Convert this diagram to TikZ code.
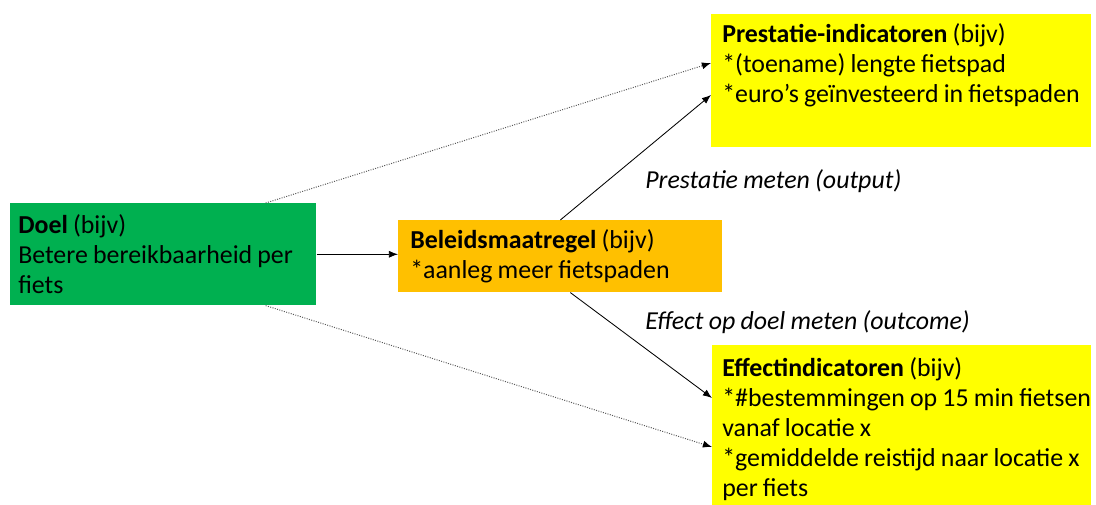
\documentclass[tikz,border=0pt]{standalone}
\usepackage{fontspec}
\setmainfont{Carlito}
\usetikzlibrary{calc,arrows.meta}
\definecolor{doelgroen}{HTML}{00B050}
\definecolor{maatoranje}{HTML}{FFC000}
\definecolor{indgeel}{HTML}{FFFF00}
\hyphenpenalty=10000
\newcommand\smalspatie{\spaceskip=0.2em plus 0.05em\relax}
\begin{document}
\begin{tikzpicture}[x=0.025cm,y=-0.025cm,
  >={Latex[length=6.5pt,width=5pt]},
  vak/.style={anchor=north west, align=flush left, font=\fontsize{18.4}{21.4}\selectfont, execute at begin node=\smalspatie},
  pijl/.style={->, line width=0.6pt},
  stippel/.style={-{Latex[black,length=6.5pt,width=5pt]}, gray!70!black, densely dotted, line width=0.7pt},
  uitleg/.style={anchor=base west, inner sep=0pt, font=\fontsize{18.4}{21.4}\selectfont\itshape, execute at begin node=\smalspatie}]
  \useasboundingbox (0,0) rectangle (1096,505);
  \node[vak, fill=doelgroen, text width=7.25cm, inner xsep=0.2cm, minimum height=2.55cm] (doel) at (10,203)
    {\textbf{Doel} (bijv)\\Betere bereikbaarheid per\\fiets};
  \node[vak, fill=maatoranje, text width=7.5cm, inner xsep=0.3cm, minimum height=1.8cm] (beleid) at (398,220)
    {\textbf{Beleidsmaatregel} (bijv)\\{}*aanleg meer fietspaden};
  \node[vak, fill=indgeel, text width=8.95cm, inner xsep=0.275cm, inner ysep=0.225cm, text depth=2.4cm] (prest) at (711,14)
    {\textbf{Prestatie-indicatoren} (bijv)\\\mbox{*(toename) lengte fietspad}\\\mbox{*euro's geïnvesteerd in fietspaden}};
  \node[vak, fill=indgeel, text width=8.975cm, inner xsep=0.25cm, inner ysep=0.3cm] (effect) at (712,345)
    {\textbf{Effectindicatoren} (bijv)\\\mbox{*\#bestemmingen op 15 min fietsen}\\vanaf locatie x\\\mbox{*gemiddelde reistijd naar locatie x}\\per fiets};
  \draw[pijl] (doel.east) -- (beleid.west |- doel.east);
  \draw[stippel] ($(doel.north east)+(-51,0)$) -- ($(prest.north west)+(0,49)$);
  \draw[pijl] (beleid.north) -- ($(prest.north west)+(0,81)$);
  \draw[pijl] ($(beleid.south)+(10,0)$) -- ($(effect.north west)+(0,53)$);
  \draw[stippel] ($(doel.south east)+(-51,0)$) -- ($(effect.north west)+(0,102)$);
  \node[uitleg] (prestlabel) at (645,188) {Prestatie meten (output)};
  \node[uitleg] (effectlabel) at (645,329) {Effect op doel meten (outcome)};
\end{tikzpicture}
\end{document}
